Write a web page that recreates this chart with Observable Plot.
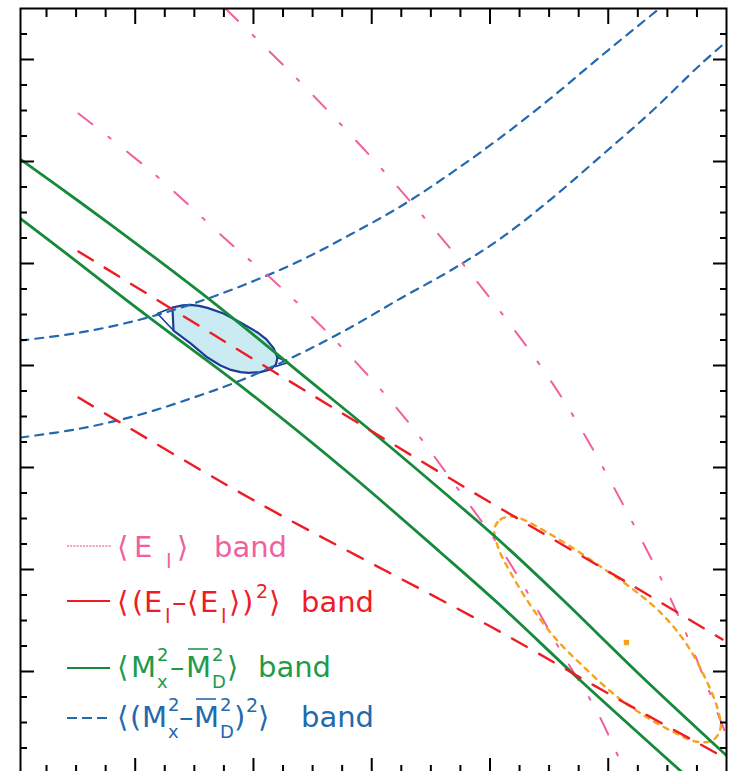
<!DOCTYPE html>
<html><head><meta charset="utf-8">
<script src="https://cdn.jsdelivr.net/npm/d3@7"></script>
<script src="https://cdn.jsdelivr.net/npm/@observablehq/plot@0.6"></script>
<style>
html,body{margin:0;padding:0;overflow:hidden;background:#fff}
#wrap{position:relative;width:731px;height:771px;overflow:hidden}
#wrap svg{display:block}
#legend{position:absolute;left:0;top:0;pointer-events:none}
</style>
</head><body><div id="wrap"></div>
<script>
// ---- data (x, y), axis units: one major tick = 1 ----
const greenUpper = [[0.03,6.020],[0.537,5.598],[1.087,5.127],[1.552,4.716],[1.975,4.324],[2.398,3.922],[2.990,3.363],[3.582,2.784],[4.089,2.275],[4.596,1.725],[5.273,0.961],[6.0,0.176]];
const greenLower = [[0.03,5.441],[0.385,5.127],[1.129,4.461],[1.975,3.725],[2.820,2.931],[3.582,2.167],[4.089,1.647],[4.765,0.912],[5.636,0]];
const redUpper = [[0.520,5.118],[2.254,3.882],[3.818,2.784],[5.188,1.853],[5.966,1.314]];
const redLower = [[0.520,3.686],[1.975,2.696],[4.004,1.441],[5.104,0.716],[5.966,0.167]];
const pinkLeft = [[0.520,6.471],[1.146,5.892],[1.806,5.196],[2.186,4.814],[2.651,4.294],[3.243,3.539],[3.751,2.755],[4.089,2.206],[4.343,1.725],[4.596,1.206],[4.909,0.598],[5.129,0.049]];
const pinkRight = [[1.763,7.5],[2.398,6.775],[3.074,5.941],[3.903,4.804],[4.596,3.706],[5.188,2.5],[5.611,1.5],[5.949,0.520],[5.983,0.422]];
const blueUpper = [[0.03,4.245],[0.537,4.324],[1.045,4.451],[1.493,4.608],[1.950,4.804],[2.398,5.029],[2.820,5.284],[3.243,5.559],[3.666,5.882],[4.089,6.235],[4.512,6.618],[4.934,7.029],[5.433,7.5]];
const blueLower = [[0.03,3.294],[0.537,3.382],[1.045,3.520],[1.493,3.686],[1.890,3.853],[2.398,4.118],[2.820,4.373],[3.243,4.657],[3.666,4.931],[4.089,5.245],[4.512,5.627],[4.934,6.049],[5.357,6.480],[5.780,6.951],[6.0,7.176]];
const blueEllipse = [[1.315,4.569],[1.400,4.590],[1.468,4.595],[1.540,4.585],[1.611,4.565],[1.747,4.510],[1.890,4.422],[2.034,4.324],[2.110,4.255],[2.170,4.170],[2.203,4.078],[2.190,4.010],[2.150,3.965],[2.059,3.935],[1.960,3.928],[1.890,3.935],[1.800,3.960],[1.721,4.0],[1.611,4.078],[1.468,4.216],[1.324,4.343]];
const ellipseWedgeLeft = [[1.315,4.569],[1.188,4.510],[1.324,4.343]];
const ellipseWedgeRight = [[2.203,4.078],[2.296,4.029],[2.186,3.990]];
const orangeEllipse = [[4.038,2.402],[4.089,2.490],[4.190,2.520],[4.300,2.480],[4.469,2.373],[4.681,2.225],[4.934,2.029],[5.188,1.824],[5.442,1.578],[5.653,1.284],[5.822,0.931],[5.924,0.637],[5.949,0.441],[5.882,0.324],[5.738,0.314],[5.543,0.412],[5.315,0.559],[5.061,0.765],[4.808,1.029],[4.554,1.324],[4.343,1.647],[4.173,1.971],[4.072,2.206]];
const orangeCenter = [[5.154,1.284]];

// ---- ticks (no tick labels in the picture) ----
const xMajor = [1,2,3,4,5];
const xMinor = [0.25,0.5,0.75,1.25,1.5,1.75,2.25,2.5,2.75,3.25,3.5,3.75,4.25,4.5,4.75,5.25,5.5,5.75];
const yMajor = [1,2,3,4,5,6,7];
const yMinor = [0.25,0.5,0.75,1.25,1.5,1.75,2.25,2.5,2.75,3.25,3.5,3.75,4.25,4.5,4.75,5.25,5.5,5.75,6.25,6.5,6.75,7.25];

const C = {pink:"#f0609f", red:"#ee1c25", green:"#168a3a", blue:"#2468ae", navy:"#1b3d99", orange:"#f7a21b", fill:"#cbebf3"};

const P = a => a.map(([x,y]) => ({x,y}));
const ax = (fn, ticks, anchor, size) => {
  const o = {anchor, tickSize: size, stroke: "#000", strokeWidth: 2, fill: "none", label: null};
  o["inset" + anchor[0].toUpperCase() + anchor.slice(1)] = size;
  return fn(ticks, o);
};

const chart = Plot.plot({
  width: 731, height: 782,
  marginLeft: 20, marginRight: 5, marginTop: 8, marginBottom: 9,
  x: {domain: [0.03, 6.0]},
  y: {domain: [0, 7.5]},
  style: {background: "white"},
  marks: [
    Plot.line(P(blueEllipse), {x:"x", y:"y", curve:"linear-closed", fill:C.fill, stroke:C.navy, strokeWidth:2.2, strokeLinejoin:"round"}),
    Plot.line(P(ellipseWedgeLeft), {x:"x", y:"y", stroke:C.navy, strokeWidth:1.6}),
    Plot.line(P(ellipseWedgeRight), {x:"x", y:"y", stroke:C.navy, strokeWidth:1.6}),
    Plot.line(P(blueUpper), {x:"x", y:"y", curve:"catmull-rom", stroke:C.blue, strokeWidth:2.2, strokeDasharray:"8,7", clip:true}),
    Plot.line(P(blueLower), {x:"x", y:"y", curve:"catmull-rom", stroke:C.blue, strokeWidth:2.2, strokeDasharray:"8,7", clip:true}),
    Plot.line(P(pinkLeft), {x:"x", y:"y", curve:"catmull-rom", stroke:C.pink, strokeWidth:2, strokeDasharray:"18,20,3,21", clip:true}),
    Plot.line(P(pinkRight), {x:"x", y:"y", curve:"catmull-rom", stroke:C.pink, strokeWidth:2, strokeDasharray:"18,20,3,21", clip:true}),
    Plot.line(P(orangeEllipse), {x:"x", y:"y", curve:"catmull-rom-closed", stroke:C.orange, strokeWidth:2.4, strokeDasharray:"5,6", clip:true}),
    Plot.dot(P(orangeCenter), {x:"x", y:"y", symbol:"square", r:3, fill:C.orange}),
    Plot.line(P(greenUpper), {x:"x", y:"y", curve:"catmull-rom", stroke:C.green, strokeWidth:2.8, clip:true}),
    Plot.line(P(greenLower), {x:"x", y:"y", curve:"catmull-rom", stroke:C.green, strokeWidth:2.8, clip:true}),
    Plot.line(P(redUpper), {x:"x", y:"y", curve:"catmull-rom", stroke:C.red, strokeWidth:2.4, strokeDasharray:"17,14", clip:true}),
    Plot.line(P(redLower), {x:"x", y:"y", curve:"catmull-rom", stroke:C.red, strokeWidth:2.4, strokeDasharray:"17,14", clip:true}),
    ax(Plot.axisX, xMajor, "top", 15), ax(Plot.axisX, xMinor, "top", 8),
    ax(Plot.axisX, xMajor, "bottom", 15), ax(Plot.axisX, xMinor, "bottom", 8),
    ax(Plot.axisY, yMajor, "left", 14), ax(Plot.axisY, yMinor, "left", 7),
    ax(Plot.axisY, yMajor, "right", 14), ax(Plot.axisY, yMinor, "right", 7),
    Plot.frame({stroke:"#000", strokeWidth:2})
  ]
});
const wrap = document.getElementById("wrap");
wrap.appendChild(chart);

// ---- legend (inside the frame, lower left) ----
const legendSvg = `
<svg id="legend" width="731" height="771" font-family="DejaVu Sans, sans-serif" font-size="29">
  <line x1="67" x2="112" y1="546" y2="546" stroke="#f27ab4" stroke-width="1.6" stroke-dasharray="2,1.2"/>
  <text y="557" fill="${C.pink}"><tspan x="117">⟨</tspan><tspan x="134">E</tspan><tspan x="166" y="568" font-size="20">l</tspan><tspan x="177" y="557">⟩</tspan><tspan x="214">band</tspan></text>

  <line x1="67" x2="110" y1="601" y2="601" stroke="${C.red}" stroke-width="2"/>
  <text y="612" fill="${C.red}"><tspan x="117">⟨</tspan><tspan x="132">(</tspan><tspan x="144">E</tspan><tspan x="165" y="623" font-size="20">l</tspan><tspan x="172" y="612">–</tspan><tspan x="187">⟨</tspan><tspan x="200">E</tspan><tspan x="221" y="623" font-size="20">l</tspan><tspan x="229" y="612">⟩</tspan><tspan x="242">)</tspan><tspan x="256" y="598" font-size="19">2</tspan><tspan x="269" y="612">⟩</tspan><tspan x="301">band</tspan></text>

  <line x1="67" x2="110" y1="668" y2="668" stroke="${C.green}" stroke-width="2"/>
  <line x1="188" x2="208" y1="649" y2="649" stroke="#1e9a48" stroke-width="1.6"/>
  <text y="677" fill="#1e9a48"><tspan x="117">⟨</tspan><tspan x="131">M</tspan><tspan x="157" y="661" font-size="18">2</tspan><tspan x="157" y="688" font-size="18">x</tspan><tspan x="170" y="677">–</tspan><tspan x="186">M</tspan><tspan x="212" y="661" font-size="18">2</tspan><tspan x="212" y="688" font-size="18">D</tspan><tspan x="227" y="677">⟩</tspan><tspan x="258">band</tspan></text>

  <line x1="67" x2="107" y1="718" y2="718" stroke="${C.blue}" stroke-width="2" stroke-dasharray="10,5"/>
  <line x1="196" x2="216" y1="699" y2="699" stroke="${C.blue}" stroke-width="1.6"/>
  <text y="727" fill="${C.blue}"><tspan x="117">⟨</tspan><tspan x="130">(</tspan><tspan x="142">M</tspan><tspan x="168" y="711" font-size="18">2</tspan><tspan x="168" y="738" font-size="18">x</tspan><tspan x="179" y="727">–</tspan><tspan x="194">M</tspan><tspan x="220" y="711" font-size="18">2</tspan><tspan x="220" y="738" font-size="18">D</tspan><tspan x="234" y="727">)</tspan><tspan x="246" y="712" font-size="19">2</tspan><tspan x="258" y="727">⟩</tspan><tspan x="301">band</tspan></text>
</svg>`;
wrap.insertAdjacentHTML("beforeend", legendSvg);
</script>
</body></html>
